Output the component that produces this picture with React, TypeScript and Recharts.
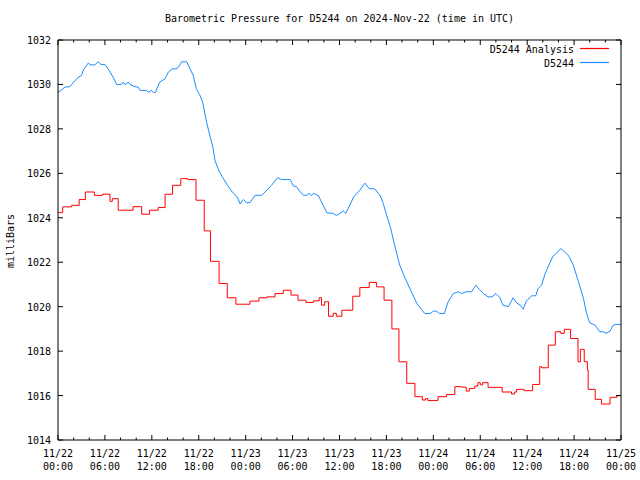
import React from "react";
import { LineChart, Line, XAxis, YAxis, Legend } from "recharts";

// hours since 11/22 00:00 UTC
const sensorHours = [
  0, 0.9, 1.5, 2.0, 2.6, 3.0, 3.25, 3.9, 4.1, 4.7, 5.15, 5.5, 6.0, 6.4, 7.05, 7.5, 8.1, 8.35, 8.55, 9.0,
  9.2, 9.85, 10.25, 10.5, 11.3, 11.6, 11.9, 12.2, 12.45, 13.0, 13.7, 14.1, 14.6, 15.2, 15.6, 15.8, 16.45,
  16.9, 17.3, 17.7, 18.1, 18.5, 19.0, 19.5, 19.8, 20.1, 20.6, 21.0, 21.6, 22.3, 22.9, 23.3, 23.7, 24.1,
  24.55, 25.2, 26.05, 26.7, 27.3, 28.1, 28.6, 29.7, 30.1, 30.5, 30.9, 31.4, 31.8, 32.1, 32.4, 32.65, 33.3,
  33.7, 34.4, 35.2, 35.6, 36.05, 36.5, 36.8, 37.1, 37.8, 38.6, 39.25, 39.8, 40.5, 41.2, 41.6, 42.0, 42.5,
  43.1, 43.7, 44.4, 45.2, 45.9, 46.5, 46.9, 47.6, 48.0, 48.4, 48.8, 49.4, 49.9, 50.55, 51.2, 51.6, 52.2,
  52.9, 53.45, 53.9, 54.4, 55.0, 55.5, 56.0, 56.5, 56.9, 57.6, 58.2, 58.65, 59.1, 59.5, 59.9, 60.6, 61.1,
  61.4, 61.85, 62.3, 62.9, 63.3, 63.9, 64.3, 64.8, 65.35, 65.9, 66.5, 67.2, 67.6, 68.0, 68.7, 69.3, 69.7,
  70.1, 70.6, 71.0, 71.4, 72.0,
];
const sensorPressure = [
  1029.63, 1029.88, 1029.9, 1030.1, 1030.33, 1030.4, 1030.66, 1030.97, 1030.88, 1030.88, 1031.02, 1030.9,
  1030.9, 1030.7, 1030.33, 1030.0, 1030.0, 1030.1, 1030.0, 1030.1, 1030.0, 1029.9, 1029.88, 1029.73,
  1029.73, 1029.64, 1029.73, 1029.64, 1029.64, 1030.1, 1030.26, 1030.55, 1030.7, 1030.7, 1030.88, 1031.02,
  1031.02, 1030.7, 1030.4, 1029.8, 1029.55, 1029.2, 1028.3, 1027.6, 1027.18, 1026.55, 1026.1, 1025.85,
  1025.5, 1025.15, 1024.95, 1024.62, 1024.82, 1024.68, 1024.68, 1025.01, 1025.01, 1025.24, 1025.46,
  1025.81, 1025.72, 1025.72, 1025.43, 1025.4, 1025.2, 1025.01, 1025.01, 1025.1, 1025.0, 1025.1, 1025.0,
  1024.71, 1024.22, 1024.2, 1024.1, 1024.2, 1024.3, 1024.2, 1024.41, 1024.93, 1025.24, 1025.56, 1025.31,
  1025.3, 1025.0, 1024.64, 1024.15, 1023.59, 1022.69, 1021.87, 1021.27, 1020.67, 1020.14, 1019.87,
  1019.69, 1019.69, 1019.8, 1019.8, 1019.69, 1019.69, 1020.22, 1020.59, 1020.67, 1020.59, 1020.67,
  1020.67, 1020.97, 1020.77, 1020.59, 1020.44, 1020.44, 1020.59, 1020.41, 1020.07, 1020.0, 1020.4,
  1020.17, 1020.07, 1019.89, 1020.26, 1020.49, 1020.49, 1020.82, 1020.97, 1021.49, 1021.97, 1022.27,
  1022.46, 1022.62, 1022.46, 1022.27, 1021.87, 1021.19, 1020.37, 1019.69, 1019.27, 1019.17, 1018.87,
  1018.87, 1018.8, 1018.9, 1019.17, 1019.2, 1019.2,
];

const analysisHours = [
  0, 0.6, 1.75, 2.7, 3.5, 4.65, 5.7, 6.65, 6.95, 7.7, 9.6, 10.7, 11.7, 12.8, 13.7, 14.65, 15.7, 16.6,
  17.65, 18.7, 19.5, 20.6, 21.65, 22.75, 24.55, 25.7, 26.7, 27.75, 28.8, 29.8, 30.7, 31.7, 32.65, 33.4,
  33.7, 34.1, 34.6, 35.2, 35.6, 36.3, 37.7, 38.6, 39.8, 40.75, 41.7, 42.7, 43.6, 44.6, 45.65, 46.6, 47.0,
  47.3, 48.6, 49.7, 50.75, 51.6, 52.2, 52.6, 53.3, 53.7, 54.0, 54.3, 55.0, 56.8, 58.0, 58.4, 58.65, 59.6,
  60.7, 61.6, 61.85, 62.7, 63.6, 64.3, 64.75, 65.55, 66.5, 66.8, 67.3, 67.7, 67.8, 68.7, 69.5, 70.6, 71.5,
  72.0,
];
const analysisPressure = [
  1024.23, 1024.49, 1024.56, 1024.82, 1025.16, 1025.01, 1025.06, 1024.74, 1024.86, 1024.34, 1024.5,
  1024.16, 1024.34, 1024.46, 1025.06, 1025.46, 1025.76, 1025.72, 1024.79, 1023.41, 1022.04, 1021.04,
  1020.4, 1020.11, 1020.25, 1020.4, 1020.44, 1020.59, 1020.74, 1020.52, 1020.29, 1020.19, 1020.26,
  1020.4, 1020.07, 1020.22, 1019.57, 1019.7, 1019.57, 1019.84, 1020.47, 1020.86, 1021.09, 1020.89,
  1020.29, 1019.0, 1017.52, 1016.55, 1015.95, 1015.8, 1015.86, 1015.78, 1015.95, 1016.05, 1016.4,
  1016.38, 1016.2, 1016.32, 1016.43, 1016.58, 1016.48, 1016.58, 1016.37, 1016.16, 1016.07, 1016.16,
  1016.28, 1016.22, 1016.5, 1017.3, 1017.25, 1018.27, 1018.87, 1018.8, 1018.98, 1018.57, 1017.52,
  1018.08, 1017.52, 1017.15, 1016.28, 1015.83, 1015.62, 1015.92, 1016.0, 1016.0,
];

const seriesNames = ["D5244 Analysis", "D5244"];
const seriesColors = ["#ff0000", "#1a8cff"];

const tickDates = ["11/22", "11/22", "11/22", "11/22", "11/23", "11/23", "11/23", "11/23", "11/24", "11/24", "11/24", "11/24", "11/25"];
const tickTimes = ["00:00", "06:00", "12:00", "18:00", "00:00", "06:00", "12:00", "18:00", "00:00", "06:00", "12:00", "18:00", "00:00"];
const hourTicks = Array.from({ length: 37 }, (_, i) => i * 2);
const pressureTicks = [1014, 1016, 1018, 1020, 1022, 1024, 1026, 1028, 1030, 1032];

const sensorData = sensorHours.map((h, i) => ({ h, v: sensorPressure[i] }));
const analysisData = analysisHours.map((h, i) => ({ h, v: analysisPressure[i] }));

const FONT = "'DejaVu Sans Mono', 'Liberation Mono', monospace";

const BottomTick = (props: any) => {
  const { x, y, payload } = props;
  const h = payload.value;
  const major = h % 6 === 0;
  const i = h / 6;
  return (
    <g>
      <line x1={x} y1={y} x2={x} y2={y - (major ? 5 : 2.5)} stroke="#000" />
      {major && (
        <text x={x} y={y + 17} textAnchor="middle" fontSize={10} fontFamily={FONT} fill="#000">
          <tspan x={x}>{tickDates[i]}</tspan>
          <tspan x={x} dy={13}>{tickTimes[i]}</tspan>
        </text>
      )}
    </g>
  );
};

const TopTick = (props: any) => {
  const { x, y, payload } = props;
  const major = payload.value % 6 === 0;
  return <line x1={x} y1={y} x2={x} y2={y + (major ? 5 : 2.5)} stroke="#000" />;
};

const LeftTick = (props: any) => {
  const { x, y, payload } = props;
  return (
    <g>
      <line x1={x} y1={y} x2={x + 5} y2={y} stroke="#000" />
      <text x={x - 7} y={y + 4} textAnchor="end" fontSize={10} fontFamily={FONT} fill="#000">
        {payload.value}
      </text>
    </g>
  );
};

const RightTick = (props: any) => {
  const { x, y } = props;
  return <line x1={x} y1={y} x2={x - 5} y2={y} stroke="#000" />;
};

const renderLegend = () => (
  <div style={{ fontFamily: FONT, fontSize: 10, color: "#000" }}>
    {seriesNames.map((name, i) => (
      <div key={name} style={{ display: "flex", justifyContent: "flex-end", alignItems: "center", height: 14 }}>
        <span>{name}</span>
        <svg width={29} height={4} style={{ marginLeft: 6, display: "block" }}>
          <line x1={0} y1={1.5} x2={29} y2={1.5} stroke={seriesColors[i]} strokeWidth={1.2} />
        </svg>
      </div>
    ))}
  </div>
);

export default function App() {
  return (
    <div style={{ position: "absolute", left: 0, top: 0, width: 640, height: 480, background: "#fff" }}>
      <div
        style={{
          position: "absolute",
          left: 58,
          width: 563,
          top: 13,
          lineHeight: "12px",
          textAlign: "center",
          fontFamily: FONT,
          fontSize: 10,
          zIndex: 2,
        }}
      >
        Barometric Pressure for D5244 on 2024-Nov-22 (time in UTC)
      </div>
      <LineChart width={640} height={480} margin={{ top: 39, right: 18, bottom: 0, left: 0 }}>
        <XAxis
          dataKey="h"
          type="number"
          domain={[0, 72]}
          ticks={hourTicks}
          interval={0}
          height={40}
          tickSize={0}
          tickMargin={0}
          tickLine={false}
          tick={<BottomTick />}
          axisLine={{ stroke: "#000" }}
          allowDataOverflow
        />
        <XAxis
          xAxisId="top"
          dataKey="h"
          orientation="top"
          type="number"
          domain={[0, 72]}
          ticks={hourTicks}
          interval={0}
          height={1}
          tickSize={0}
          tickMargin={0}
          tickLine={false}
          tick={<TopTick />}
          axisLine={{ stroke: "#000" }}
          allowDataOverflow
        />
        <YAxis
          type="number"
          domain={[1014, 1032]}
          ticks={pressureTicks}
          interval={0}
          width={58}
          tickSize={0}
          tickMargin={0}
          tickLine={false}
          tick={<LeftTick />}
          axisLine={{ stroke: "#000" }}
          allowDataOverflow
          label={{
            value: "milliBars",
            content: () => (
              <text
                x={14}
                y={241}
                transform="rotate(-90 14 241)"
                textAnchor="middle"
                fontSize={10}
                fontFamily={FONT}
                fill="#000"
              >
                milliBars
              </text>
            ),
          }}
        />
        <YAxis
          yAxisId="right"
          orientation="right"
          type="number"
          domain={[1014, 1032]}
          ticks={pressureTicks}
          interval={0}
          width={1}
          tickSize={0}
          tickMargin={0}
          tickLine={false}
          tick={<RightTick />}
          axisLine={{ stroke: "#000" }}
          allowDataOverflow
        />
        <Legend
          layout="vertical"
          align="center"
          verticalAlign="middle"
          content={renderLegend}
          wrapperStyle={{ top: 42, left: "auto", right: 31, width: "auto" }}
        />
        <Line
          data={analysisData}
          dataKey="v"
          name={seriesNames[0]}
          type="stepAfter"
          stroke={seriesColors[0]}
          strokeWidth={1}
          dot={false}
          isAnimationActive={false}
        />
        <Line
          data={sensorData}
          dataKey="v"
          name={seriesNames[1]}
          type="linear"
          stroke={seriesColors[1]}
          strokeWidth={1}
          dot={false}
          isAnimationActive={false}
        />
        {/* invisible: binds the top and right frame axes so they render */}
        <Line
          data={sensorData}
          dataKey="v"
          xAxisId="top"
          yAxisId="right"
          stroke="none"
          legendType="none"
          dot={false}
          activeDot={false}
          isAnimationActive={false}
        />
      </LineChart>
    </div>
  );
}
